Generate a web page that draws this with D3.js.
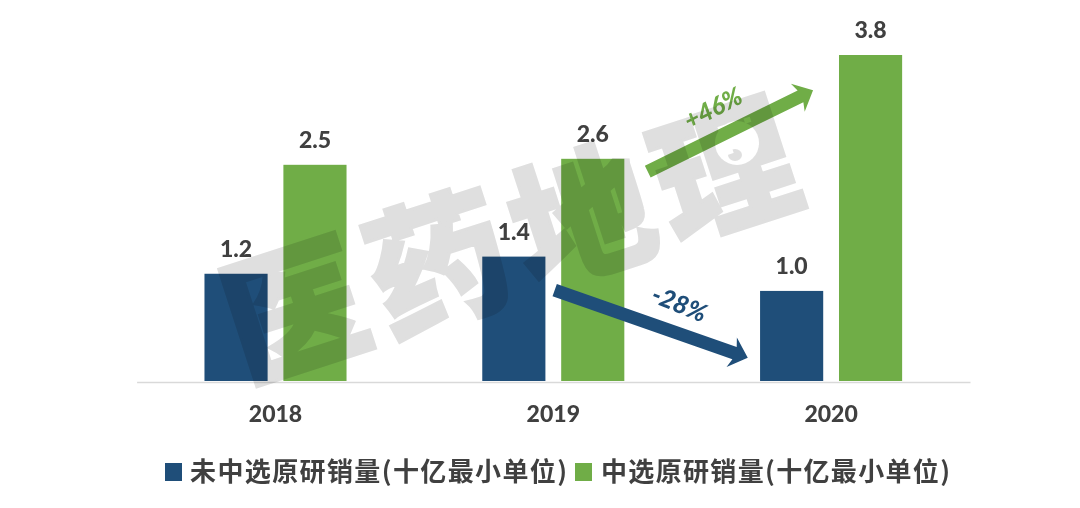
<!DOCTYPE html>
<html lang="en">
<head>
    <meta charset="UTF-8">
    <title>原研销量</title>
    <style>
        html, body { margin: 0; padding: 0; background: #fff; }
        svg { display: block; }
        .num { font-family: Lato, sans-serif; font-weight: 900; font-size: 23px; fill: #404040; }
        .legend { font-family: "Noto Sans CJK SC", sans-serif; font-weight: 700; font-size: 26px; fill: #404040; }
        .note { font-family: Lato, sans-serif; font-weight: 900; font-style: italic; font-size: 25px; }
        .mark { font-family: "Noto Sans CJK SC", sans-serif; font-weight: 900; font-size: 140px; fill: #dfdfdf; stroke: #dfdfdf; stroke-width: 3px; }
        .markGroup { mix-blend-mode: multiply; }
    </style>
</head>
<body>
    <div id="chart"></div>
    <script src="https://d3js.org/d3.v7.min.js"></script>
    <script>
        const years = ["2018", "2019", "2020"];
        const seriesNames = ["未中选原研销量(十亿最小单位)", "中选原研销量(十亿最小单位)"];
        const notSelected = [1.25, 1.45, 1.05];
        const selected = [2.52, 2.59, 3.8];
        const notSelectedLabels = ["1.2", "1.4", "1.0"];
        const selectedLabels = ["2.5", "2.6", "3.8"];
        const watermark = ["医", "药", "地", "理"];

        const width = 1080, height = 508;
        const colors = ["#1f4e79", "#70ad47"];
        const svg = d3.select("#chart").append("svg").attr("width", width).attr("height", height);

        const x = d3.scaleBand().domain(years).range([136.6, 970]);
        const inner = d3.scaleBand().domain([0, 1]).range([0, x.bandwidth()])
            .paddingInner(0.2).paddingOuter(0.86);
        const y = d3.scaleLinear().domain([0, 3.8]).range([381, 55]);
        // same x positions as the bands but fractional, for the arrows
        const xPos = d3.scaleLinear().domain([0, 2]).range([x("2018") + x.bandwidth() / 2, x("2020") + x.bandwidth() / 2]);

        // bars
        [notSelected, selected].forEach((values, s) => {
            svg.selectAll(".bar" + s)
                .data(values)
                .enter()
                .append("rect")
                .attr("class", "bar" + s)
                .attr("x", (d, i) => x(years[i]) + inner(s))
                .attr("y", d => y(d))
                .attr("width", inner.bandwidth())
                .attr("height", d => y(0) - y(d))
                .attr("fill", colors[s]);
        });

        // value labels
        [notSelectedLabels, selectedLabels].forEach((labels, s) => {
            const values = s === 0 ? notSelected : selected;
            svg.selectAll(".val" + s)
                .data(labels)
                .enter()
                .append("text")
                .attr("class", "num val" + s)
                .attr("x", (d, i) => x(years[i]) + inner(s) + inner.bandwidth() / 2)
                .attr("y", (d, i) => y(values[i]) - 17)
                .attr("text-anchor", "middle")
                .text(d => d);
        });

        // axis
        const axis = svg.append("g")
            .attr("transform", "translate(0," + (y(0) + 1) + ")")
            .call(d3.axisBottom(x).tickSize(0).tickPadding(24));
        axis.select(".domain").attr("stroke", "#d9d9d9").attr("stroke-width", 1.5);
        axis.selectAll("text").attr("class", "num").attr("font-size", null).attr("font-family", null);

        // arrows
        function arrow(x0, v0, x1, v1, color, w, head) {
            const ax = xPos(x0), ay = y(v0), bx = xPos(x1), by = y(v1);
            const len = Math.hypot(bx - ax, by - ay), ang = Math.atan2(by - ay, bx - ax) * 180 / Math.PI;
            const neck = len - head;
            const path = d3.path();
            path.moveTo(0, -w / 2);
            path.lineTo(neck, -w / 2);
            path.lineTo(neck - 3, -w * 1.2);
            path.lineTo(len, 0);
            path.lineTo(neck - 3, w * 1.2);
            path.lineTo(neck, w / 2);
            path.lineTo(0, w / 2);
            path.closePath();
            svg.append("path")
                .attr("d", path.toString())
                .attr("fill", color)
                .attr("transform", "translate(" + ax + "," + ay + ") rotate(" + ang + ")");
        }
        arrow(1.34, 2.44, 1.935, 3.39, colors[1], 13, 14);
        arrow(1.005, 1.06, 1.70, 0.27, colors[0], 13, 14);

        svg.append("text").attr("class", "note").attr("fill", colors[1])
            .attr("text-anchor", "middle")
            .attr("transform", "translate(717,116) rotate(-27)").text("+46%");
        svg.append("text").attr("class", "note").attr("fill", colors[0])
            .attr("text-anchor", "middle")
            .attr("transform", "translate(676,312) rotate(22)").text("-28%");

        // legend
        const legendX = [165, 575], legendText = [190, 601], legendLen = [377, 349];
        seriesNames.forEach((name, s) => {
            svg.append("rect").attr("x", legendX[s]).attr("y", 463).attr("width", 17).attr("height", 18).attr("fill", colors[s]);
            svg.append("text").attr("class", "legend")
                .attr("x", legendText[s]).attr("y", 481)
                .attr("textLength", legendLen[s]).attr("lengthAdjust", "spacing")
                .text(name);
        });

        // watermark on top of everything, multiplied so bars show through
        const defs = svg.append("defs");
        const mask = defs.append("mask").attr("id", "globe").attr("maskUnits", "userSpaceOnUse")
            .attr("x", 0).attr("y", 0).attr("width", width).attr("height", height);
        mask.append("rect").attr("width", width).attr("height", height).attr("fill", "#fff");
        mask.append("circle").attr("cx", 737).attr("cy", 143).attr("r", 22).attr("fill", "#000");
        mask.append("ellipse").attr("cx", 735).attr("cy", 155).attr("rx", 7).attr("ry", 6).attr("fill", "#fff");

        const markOuter = svg.append("g").attr("class", "markGroup").attr("mask", "url(#globe)");
        const markGroup = markOuter.append("g").attr("transform", "translate(511,244) rotate(-18)");
        const markX = d3.scalePoint().domain(watermark).range([-226, 226]);
        markGroup.selectAll("text")
            .data(watermark)
            .enter()
            .append("text")
            .attr("class", "mark")
            .attr("x", d => markX(d))
            .attr("y", 48)
            .attr("text-anchor", "middle")
            .text(d => d);
    </script>
</body>
</html>
